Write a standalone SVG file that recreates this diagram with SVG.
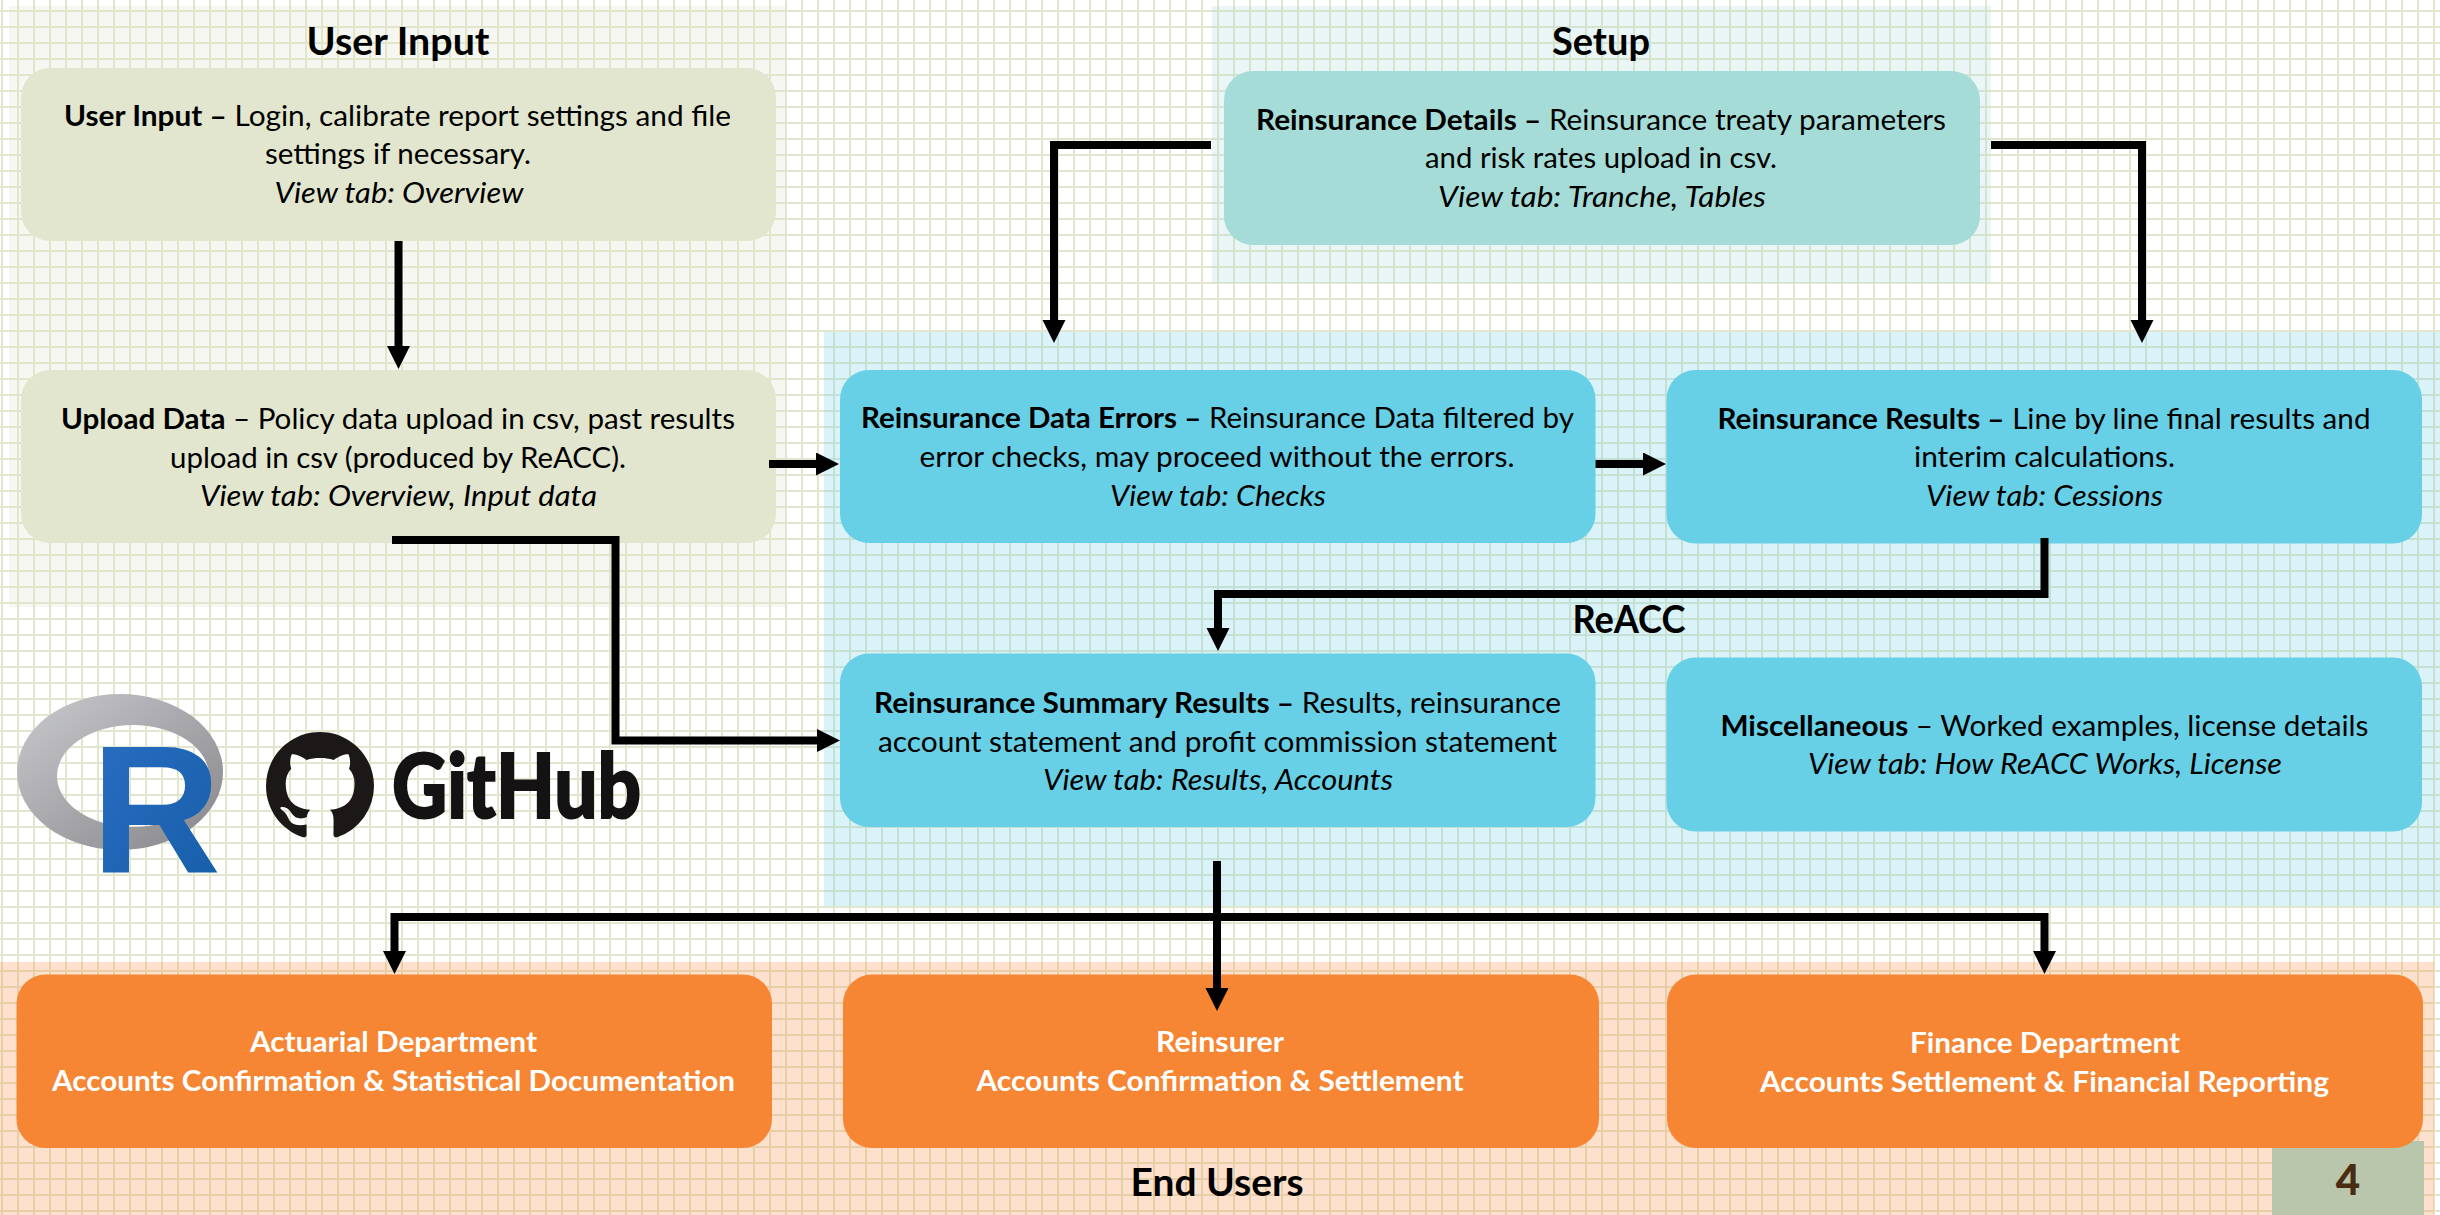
<svg xmlns="http://www.w3.org/2000/svg" width="2440" height="1215" viewBox="0 0 2440 1215">
<style>
text{font-family:"Lato","Open Sans",sans-serif;text-anchor:middle;fill:#000}
.b{font-size:28.5px}
.t{font-size:38px;font-weight:700}
.i{font-style:italic}
.h{font-weight:700}
.w{fill:#fff;font-weight:700}
.n1{fill:#e2e6ce}.n2{fill:#a6dcd7}.n3{fill:#67d0e6}.n4{fill:#f68633}
.c{fill:none;stroke:#000;stroke-width:8;stroke-linejoin:miter;stroke-linecap:butt}
.a{marker-end:url(#ah)}
</style>
<defs>
<pattern id="grid" patternUnits="userSpaceOnUse" width="16" height="16">
<rect x="1" y="0" width="2" height="16" fill="#e3e6cf"/>
<rect x="0" y="10" width="16" height="2" fill="#e3e6cf"/>
</pattern>
<marker id="ah" markerUnits="userSpaceOnUse" markerWidth="24" markerHeight="24" refX="2" refY="11.5" orient="auto">
<path d="M0 0L23 11.5L0 23Z" fill="#000"/>
</marker>
<linearGradient id="rg" x1="0" y1="0" x2="1" y2="1"><stop offset="0" stop-color="#c9cacd"/><stop offset="1" stop-color="#86858a"/></linearGradient>
<linearGradient id="rb" x1="0" y1="0" x2="1" y2="1"><stop offset="0" stop-color="#2a6ec2"/><stop offset="1" stop-color="#155da8"/></linearGradient>
</defs>
<rect width="2440" height="1215" fill="#fff"/>
<rect width="2440" height="1215" fill="url(#grid)"/>
<g id="panels">
<rect x="9" y="6" width="778" height="601" fill="#e2e6ce" fill-opacity=".3"/>
<rect x="1212" y="6" width="779" height="277" fill="#a6dcd7" fill-opacity=".25"/>
<rect x="824" y="332" width="1616" height="574" fill="#67d0e6" fill-opacity=".25"/>
<rect x="0" y="962" width="2434" height="253" fill="#f68633" fill-opacity=".25"/>
<rect id="page-box" x="2272" y="1141" width="152" height="74" fill="#b9c6ac"/>
</g>
<g id="titles">
<text class="t" x="398" y="55" textLength="183" lengthAdjust="spacingAndGlyphs">User Input</text>
<text class="t" x="1601" y="55" textLength="98" lengthAdjust="spacingAndGlyphs">Setup</text>
<text class="t" x="1629" y="633" textLength="113" lengthAdjust="spacingAndGlyphs">ReACC</text>
<text class="t" x="1217" y="1196" textLength="173" lengthAdjust="spacingAndGlyphs">End Users</text>
<text x="2348" y="1195" font-size="42" font-weight="900" style="fill:#4a2c10">4</text>
</g>
<g id="logo-r">
<path d="M17 772a103 78 0 1 0 206 0a103 78 0 1 0 -206 0ZM57 776a76 51 0 1 1 152 0a76 51 0 1 1 -152 0Z" fill="url(#rg)" fill-rule="evenodd"/>
<text x="156" y="873" font-size="182" font-weight="700" textLength="130" lengthAdjust="spacingAndGlyphs" style="font-family:'Liberation Sans',sans-serif;fill:url(#rb)">R</text>
</g>
<g id="logo-github">
<path transform="translate(266 732) scale(6.75)" fill="#1b1817" fill-rule="evenodd" d="M8 0C3.58 0 0 3.58 0 8c0 3.54 2.29 6.53 5.47 7.59.4.07.55-.17.55-.38 0-.19-.01-.82-.01-1.49-2.01.37-2.53-.49-2.69-.94-.09-.23-.48-.94-.82-1.13-.28-.15-.68-.52-.01-.53.63-.01 1.08.58 1.23.82.72 1.21 1.87.87 2.33.66.07-.52.28-.87.51-1.07-1.78-.2-3.64-.89-3.64-3.95 0-.87.31-1.59.82-2.15-.08-.2-.36-1.02.08-2.12 0 0 .67-.21 2.2.82.64-.18 1.32-.27 2-.27.68 0 1.36.09 2 .27 1.53-1.04 2.2-.82 2.2-.82.44 1.1.16 1.92.08 2.12.51.56.82 1.27.82 2.15 0 3.07-1.87 3.75-3.65 3.95.29.25.54.73.54 1.48 0 1.07-.01 1.93-.01 2.2 0 .21.15.46.55.38A8.013 8.013 0 0016 8c0-4.42-3.58-8-8-8z"/>
<text x="516.5" y="818" font-size="90" font-weight="900" textLength="249" lengthAdjust="spacingAndGlyphs" style="fill:#141212;stroke:#141212;stroke-width:2">GitHub</text>
</g>
<g id="node-user-input">
<rect class="n1" x="21" y="68" width="755" height="173" rx="29"/>
<text class="b" x="397.5" y="126" textLength="667" lengthAdjust="spacingAndGlyphs"><tspan class="h">User Input –</tspan> Login, calibrate report settings and file</text>
<text class="b" x="398" y="164" textLength="266" lengthAdjust="spacingAndGlyphs">settings if necessary.</text>
<text class="b i" x="399" y="203" textLength="249" lengthAdjust="spacingAndGlyphs">View tab: Overview</text>
</g>
<g id="node-upload-data">
<rect class="n1" x="21" y="370" width="755" height="173" rx="29"/>
<text class="b" x="398" y="429" textLength="674" lengthAdjust="spacingAndGlyphs"><tspan class="h">Upload Data</tspan> – Policy data upload in csv, past results</text>
<text class="b" x="398" y="467.5" textLength="456" lengthAdjust="spacingAndGlyphs">upload in csv (produced by ReACC).</text>
<text class="b i" x="398.5" y="506" textLength="397" lengthAdjust="spacingAndGlyphs">View tab: Overview, Input data</text>
</g>
<g id="node-reinsurance-details">
<rect class="n2" x="1224" y="71" width="756" height="174" rx="29"/>
<text class="b" x="1601" y="130" textLength="690" lengthAdjust="spacingAndGlyphs"><tspan class="h">Reinsurance Details –</tspan> Reinsurance treaty parameters</text>
<text class="b" x="1601" y="168" textLength="352" lengthAdjust="spacingAndGlyphs">and risk rates upload in csv.</text>
<text class="b i" x="1602" y="207" textLength="328" lengthAdjust="spacingAndGlyphs">View tab: Tranche, Tables</text>
</g>
<g id="node-data-errors">
<rect class="n3" x="840" y="370" width="755.5" height="173" rx="29"/>
<text class="b" x="1217.5" y="428" textLength="713" lengthAdjust="spacingAndGlyphs"><tspan class="h">Reinsurance Data Errors –</tspan> Reinsurance Data filtered by</text>
<text class="b" x="1217" y="467" textLength="595" lengthAdjust="spacingAndGlyphs">error checks, may proceed without the errors.</text>
<text class="b i" x="1218" y="505.5" textLength="216" lengthAdjust="spacingAndGlyphs">View tab: Checks</text>
</g>
<g id="node-results">
<rect class="n3" x="1666.5" y="370" width="755.5" height="173.5" rx="29"/>
<text class="b" x="2044" y="428.5" textLength="653" lengthAdjust="spacingAndGlyphs"><tspan class="h">Reinsurance Results –</tspan> Line by line final results and</text>
<text class="b" x="2044.5" y="467" textLength="261" lengthAdjust="spacingAndGlyphs">interim calculations.</text>
<text class="b i" x="2044.5" y="505.5" textLength="237" lengthAdjust="spacingAndGlyphs">View tab: Cessions</text>
</g>
<g id="node-summary">
<rect class="n3" x="840" y="653.5" width="755.5" height="173.5" rx="29"/>
<text class="b" x="1217.5" y="713" textLength="687" lengthAdjust="spacingAndGlyphs"><tspan class="h">Reinsurance Summary Results –</tspan> Results, reinsurance</text>
<text class="b" x="1217.5" y="751.5" textLength="679" lengthAdjust="spacingAndGlyphs">account statement and profit commission statement</text>
<text class="b i" x="1218" y="790" textLength="350" lengthAdjust="spacingAndGlyphs">View tab: Results, Accounts</text>
</g>
<g id="node-misc">
<rect class="n3" x="1666.5" y="657.5" width="755.5" height="174" rx="29"/>
<text class="b" x="2044.5" y="735.5" textLength="648" lengthAdjust="spacingAndGlyphs"><tspan class="h">Miscellaneous</tspan> – Worked examples, license details</text>
<text class="b i" x="2045" y="774" textLength="474" lengthAdjust="spacingAndGlyphs">View tab: How ReACC Works, License</text>
</g>
<g id="node-actuarial">
<rect class="n4" x="16.5" y="974.500" width="755.5" height="173.5" rx="29"/>
<text class="b w" x="393.5" y="1052" textLength="287" lengthAdjust="spacingAndGlyphs">Actuarial Department</text>
<text class="b w" x="393.5" y="1091" textLength="683" lengthAdjust="spacingAndGlyphs">Accounts Confirmation &amp; Statistical Documentation</text>
</g>
<g id="node-reinsurer">
<rect class="n4" x="843" y="974.500" width="756" height="173.5" rx="29"/>
<text class="b w" x="1220" y="1052" textLength="128" lengthAdjust="spacingAndGlyphs">Reinsurer</text>
<text class="b w" x="1220" y="1091" textLength="487" lengthAdjust="spacingAndGlyphs">Accounts Confirmation &amp; Settlement</text>
</g>
<g id="node-finance">
<rect class="n4" x="1667" y="974.500" width="756" height="173.5" rx="29"/>
<text class="b w" x="2045" y="1052.500" textLength="270" lengthAdjust="spacingAndGlyphs">Finance Department</text>
<text class="b w" x="2044.5" y="1091.500" textLength="569" lengthAdjust="spacingAndGlyphs">Accounts Settlement &amp; Financial Reporting</text>
</g>
<g id="connectors">
<path class="c a" d="M398.5 241V348"/>
<path class="c a" d="M769 464H818"/>
<path class="c a" d="M1595.5 464H1645"/>
<path class="c a" d="M1211 145H1054V322"/>
<path class="c a" d="M1991 145H2142V322"/>
<path class="c a" d="M392 540H615.500V740.500H819"/>
<path class="c a" d="M2044.500 538V594H1218V630"/>
<path class="c a" d="M1217 861V990"/>
<path class="c a" d="M1217 917H394.500V953"/>
<path class="c a" d="M1217 917H2044.500V953"/>
</g>
</svg>
